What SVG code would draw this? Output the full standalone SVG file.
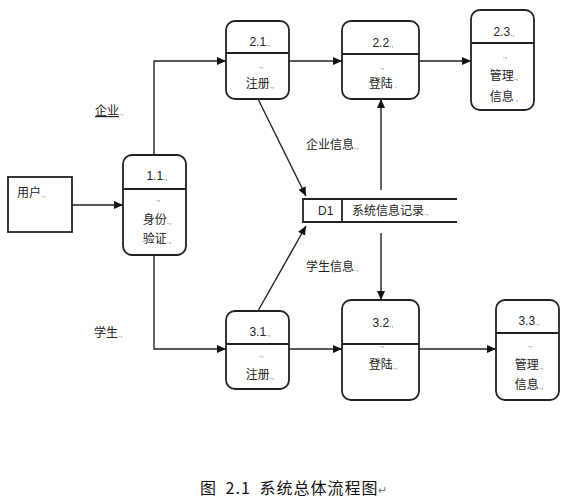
<svg xmlns="http://www.w3.org/2000/svg" width="586" height="500" viewBox="0 0 586 500">
<style>
.node{fill:#fff;stroke:#222;stroke-width:1.8}
.div{stroke:#222;stroke-width:1.8}
.t{font-family:"Liberation Sans","Noto Sans CJK SC",sans-serif;font-size:12px;fill:#222;text-anchor:middle}
.lbl{font-family:"Liberation Sans","Noto Sans CJK SC",sans-serif;font-size:12px;fill:#222}
.m{font-size:8px;fill:#555}
.c{fill:none;stroke:#222;stroke-width:1.4}
.cap{font-family:"Noto Sans CJK SC",sans-serif;font-size:16px;fill:#111;letter-spacing:1px;word-spacing:4px}
</style>
<defs>
<marker id="ah" markerWidth="9" markerHeight="8" refX="9" refY="4" orient="auto" markerUnits="userSpaceOnUse">
<path d="M0,0 L9,4 L0,8 z" fill="#111"/>
</marker>
</defs>
<rect width="586" height="500" fill="#fff"/>
<g id="connectors">
<line class="c" x1="72" y1="205" x2="123" y2="205" marker-end="url(#ah)"/>
<polyline class="c" points="154,155 154,61 226,61" marker-end="url(#ah)"/>
<polyline class="c" points="154,255 154,349 226,349" marker-end="url(#ah)"/>
<line class="c" x1="289" y1="61" x2="342" y2="61" marker-end="url(#ah)"/>
<line class="c" x1="419" y1="61" x2="471" y2="61" marker-end="url(#ah)"/>
<line class="c" x1="258" y1="99" x2="306" y2="196" marker-end="url(#ah)"/>
<line class="c" x1="258" y1="311" x2="306" y2="226" marker-end="url(#ah)"/>
<line class="c" x1="381" y1="190" x2="381" y2="99" marker-end="url(#ah)"/>
<line class="c" x1="381" y1="233" x2="381" y2="300" marker-end="url(#ah)"/>
<line class="c" x1="289" y1="349" x2="342" y2="349" marker-end="url(#ah)"/>
<line class="c" x1="419" y1="349" x2="496" y2="349" marker-end="url(#ah)"/>
<text class="lbl" x="95" y="115"><tspan text-decoration="underline">企业</tspan><tspan class="m">.,</tspan></text>
<text class="lbl" x="306" y="149">企业信息<tspan class="m">.,</tspan></text>
<text class="lbl" x="94" y="337">学生<tspan class="m">.,</tspan></text>
<text class="lbl" x="306" y="271">学生信息<tspan class="m">.,</tspan></text>
</g>
<g id="user">
<rect x="8" y="177" width="64" height="55" fill="#fff" stroke="#222" stroke-width="1.8"/>
<text class="lbl" x="17" y="197">用户<tspan class="m">.,</tspan></text>
</g>
<g id="n1_1">
<rect class="node" x="123" y="155" width="63" height="100" rx="9"/>
<line class="div" x1="123" y1="189" x2="186" y2="189"/>
<text class="t" x="157" y="180">1.1<tspan class="m">.,</tspan></text>
<text class="t m" x="158" y="201">.,</text>
<text class="t" x="157" y="224">身份<tspan class="m">.,</tspan></text>
<text class="t" x="157" y="243">验证<tspan class="m">.,</tspan></text>
</g>
<g id="n2_1">
<rect class="node" x="226" y="21" width="63" height="78" rx="9"/>
<line class="div" x1="226" y1="53" x2="289" y2="53"/>
<text class="t" x="260" y="46">2.1<tspan class="m">.,</tspan></text>
<text class="t m" x="261" y="68">.,</text>
<text class="t" x="260" y="88">注册<tspan class="m">.,</tspan></text>
</g>
<g id="n2_2">
<rect class="node" x="342" y="21" width="77" height="78" rx="9"/>
<line class="div" x1="342" y1="54" x2="419" y2="54"/>
<text class="t" x="383" y="47">2.2<tspan class="m">.,</tspan></text>
<text class="t m" x="382" y="69">.,</text>
<text class="t" x="383" y="88">登陆<tspan class="m"> .</tspan></text>
</g>
<g id="n2_3">
<rect class="node" x="471" y="10" width="63" height="100" rx="9"/>
<line class="div" x1="471" y1="43" x2="534" y2="43"/>
<text class="t" x="504" y="36">2.3<tspan class="m">.,</tspan></text>
<text class="t m" x="505" y="58">.,</text>
<text class="t" x="504" y="80">管理<tspan class="m">.,</tspan></text>
<text class="t" x="504" y="101">信息<tspan class="m"> ,</tspan></text>
</g>
<g id="d1">
<line class="div" x1="303" y1="199" x2="457" y2="199"/>
<line class="div" x1="303" y1="222" x2="457" y2="222"/>
<line class="div" x1="303" y1="198" x2="303" y2="223"/>
<line class="div" x1="342" y1="199" x2="342" y2="222"/>
<text class="lbl" x="318" y="215">D1</text>
<text class="lbl" x="352" y="215">系统信息记录<tspan class="m">.,</tspan></text>
</g>
<g id="n3_1">
<rect class="node" x="226" y="311" width="63" height="78" rx="9"/>
<line class="div" x1="226" y1="344" x2="289" y2="344"/>
<text class="t" x="260" y="336">3.1<tspan class="m">.,</tspan></text>
<text class="t m" x="261" y="357">.,</text>
<text class="t" x="260" y="379">注册<tspan class="m">.,</tspan></text>
</g>
<g id="n3_2">
<rect class="node" x="342" y="300" width="77" height="100" rx="9"/>
<line class="div" x1="342" y1="344" x2="419" y2="344"/>
<text class="t" x="383" y="327">3.2<tspan class="m">.,</tspan></text>
<text class="t m" x="382" y="347">.,</text>
<text class="t" x="383" y="369">登陆<tspan class="m">.,</tspan></text>
</g>
<g id="n3_3">
<rect class="node" x="496" y="300" width="63" height="100" rx="9"/>
<line class="div" x1="496" y1="333" x2="559" y2="333"/>
<text class="t" x="529" y="325">3.3<tspan class="m">.,</tspan></text>
<text class="t m" x="530" y="347">.,</text>
<text class="t" x="529" y="369">管理<tspan class="m">.,</tspan></text>
<text class="t" x="529" y="389">信息<tspan class="m">.,</tspan></text>
</g>
<text class="cap" x="200" y="494">图 2.1 系统总体流程图<tspan font-size="11" fill="#777">↵</tspan></text>
</svg>
